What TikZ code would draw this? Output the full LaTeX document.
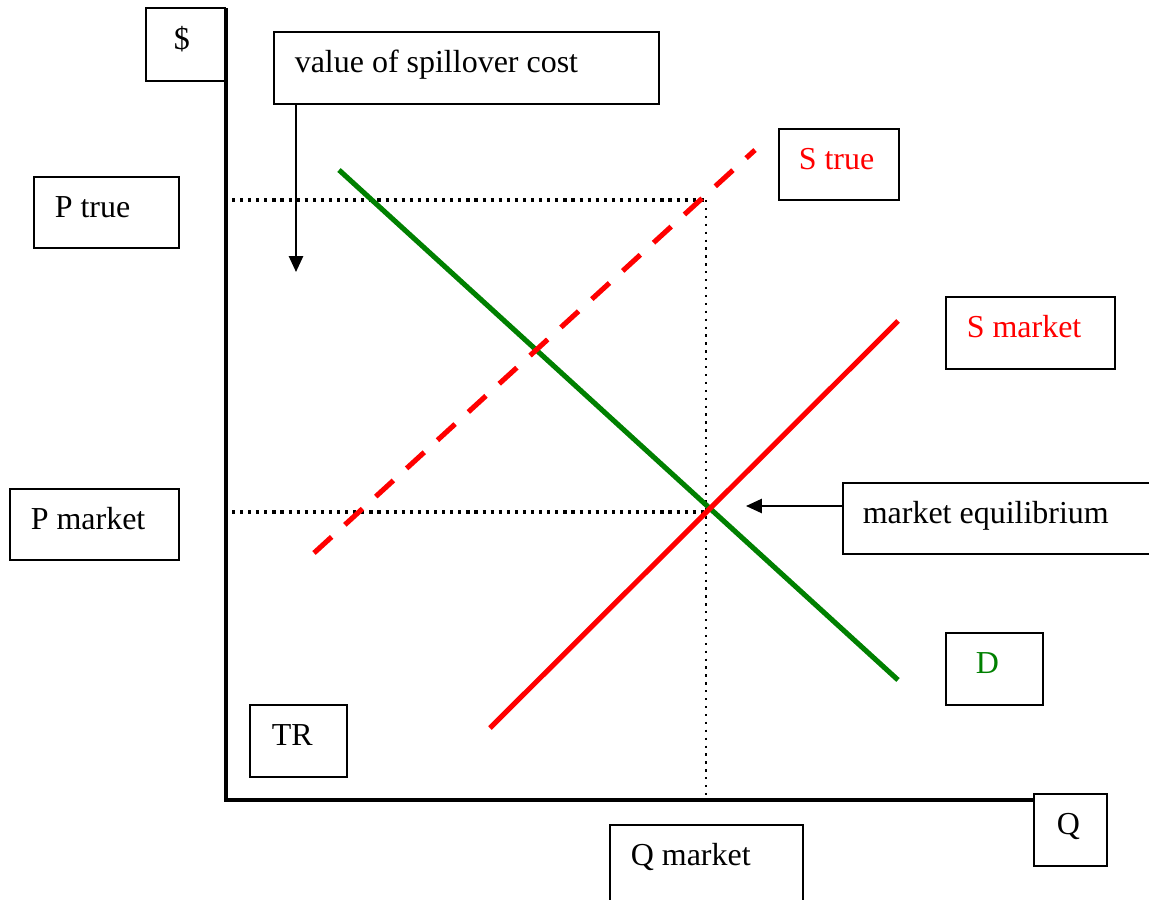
\documentclass[tikz,border=0pt]{standalone}
\usepackage{fontspec}
\setmainfont{Liberation Serif}
\usetikzlibrary{arrows.meta,calc}
\newdimen\pxu \pxu=0.02cm
\definecolor{dgreen}{RGB}{0,128,0}
\begin{document}
\begin{tikzpicture}[x=0.02cm,y=-0.02cm,
  box/.style={draw, line width=0.9pt, rectangle, anchor=north west, inner ysep=0pt,
    font=\fontsize{18.2}{22}\selectfont, align=left, text height=13pt, text depth=7.2pt,
    execute at begin node={\spaceskip=0.25em\relax}},
  axis/.style={line width=2.3pt},
  guide/.style={line width=1.8pt, dash pattern=on 1.8pt off 2.8pt},
  curve/.style={line width=2.9pt},
  pointer/.style={line width=1.2pt, -{Triangle[width=8pt,length=9pt]}}]
\useasboundingbox (0,0) rectangle (1149,899);

% boxes
\node[box, minimum width=79\pxu, minimum height=73\pxu, inner xsep=28\pxu, text width=23\pxu] (dollar) at (145,7) {\$};
\node[box, minimum width=385\pxu, minimum height=72\pxu, inner xsep=21\pxu, text width=343\pxu] (spill) at (273,31) {value of spillover cost};
\node[box, minimum width=145\pxu, minimum height=71\pxu, inner xsep=21\pxu, text width=103\pxu] (ptrue) at (33,176) {P true};
\node[box, minimum width=169\pxu, minimum height=71\pxu, inner xsep=21\pxu, text width=127\pxu] (pmarket) at (9,488) {P market};
\node[box, minimum width=120\pxu, minimum height=71\pxu, inner xsep=20\pxu, text width=80\pxu, text=red] (strue) at (778,128) {S true};
\node[box, minimum width=169\pxu, minimum height=72\pxu, inner xsep=21\pxu, text width=127\pxu, text=red] (smarket) at (945,296) {S market};
\node[box, minimum width=330\pxu, minimum height=71\pxu, inner xsep=20\pxu, text width=290\pxu] (mkteq) at (842,482) {market equilibrium};
\node[box, minimum width=97\pxu, minimum height=72\pxu, inner xsep=30\pxu, text width=37\pxu, text=dgreen] (D) at (945,632) {D};
\node[box, minimum width=97\pxu, minimum height=72\pxu, inner xsep=22\pxu, text width=53\pxu] (TR) at (249,704) {TR};
\node[box, minimum width=193\pxu, minimum height=90\pxu, inner xsep=21\pxu, text width=151\pxu] (qmarket) at (609,824) {\raisebox{9\pxu}{Q market}};
\node[box, minimum width=73\pxu, minimum height=72\pxu, inner xsep=23\pxu, text width=27\pxu] (Q) at (1033,793) {Q};

% axes
\coordinate (O) at (226,800);
\coordinate (ytop) at (226,8);
\draw[axis] (ytop) -- (O) -- (Q.west |- O);

% guide lines
\coordinate (pt) at (232,200);
\coordinate (ptc) at (706,200);
\coordinate (pm) at (232,512);
\coordinate (eq) at (706,512);
\coordinate (qm) at (706,800);
\draw[guide] (pt) -- (ptc);
\draw[line width=1.3pt, dash pattern=on 1.3pt off 3.2pt] (ptc) -- (qm);
\draw[guide] (pm) -- (eq);

% curves
\coordinate (d1) at (339,170);
\coordinate (d2) at (898,680);
\coordinate (sm1) at (490,728);
\coordinate (sm2) at (898,321);
\coordinate (st1) at (314,553);
\coordinate (st2) at (755,150);
\draw[curve, dgreen] (d1) -- (d2);
\draw[curve, red] (sm1) -- (sm2);
\draw[curve, red, dash pattern=on 13.6pt off 10.2pt] (st1) -- (st2);

% pointers
\coordinate (spillend) at (296,272);
\draw[pointer] (spill.south west -| spillend) -- (spillend);
\coordinate (eqend) at (746,506);
\draw[pointer] (mkteq.west |- eqend) -- (eqend);
\end{tikzpicture}
\end{document}
